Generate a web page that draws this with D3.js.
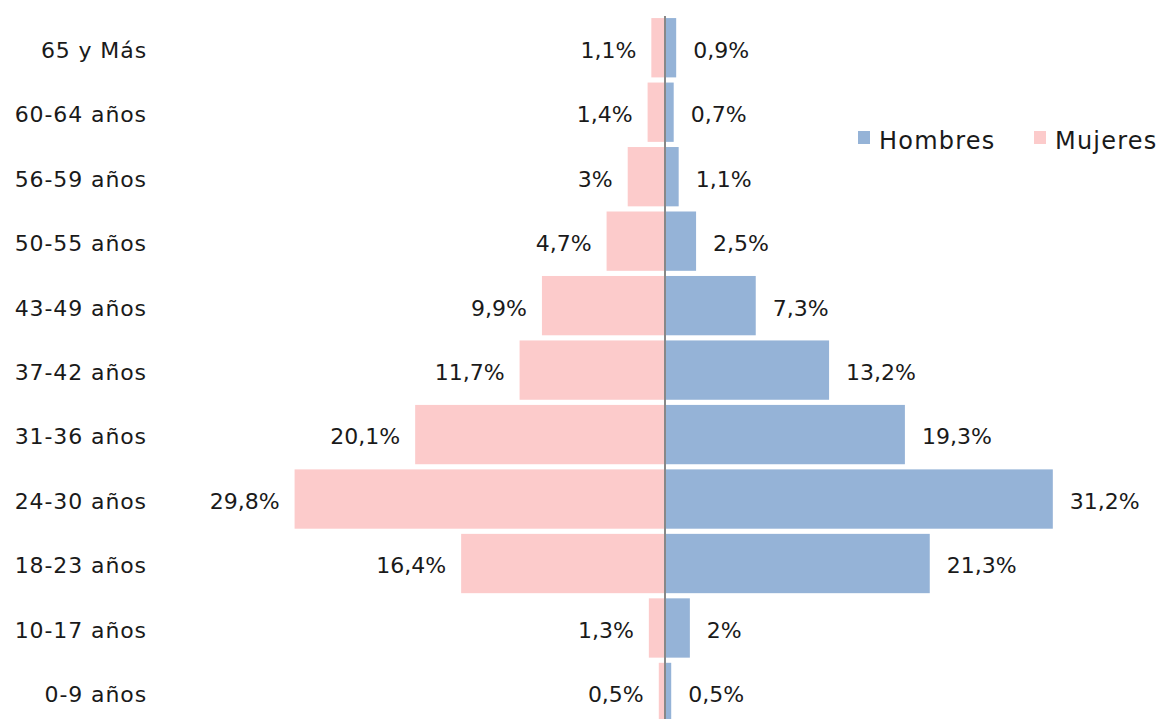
<!DOCTYPE html>
<html><head><meta charset="utf-8">
<script src="https://cdn.jsdelivr.net/npm/d3@7"></script>
<style>
html,body{margin:0;padding:0;background:#fff;overflow:hidden}
text{font-family:"DejaVu Sans",sans-serif;fill:#1a1a1a}
</style></head><body>
<script>
const categories = ["65 y Más","60-64 años","56-59 años","50-55 años","43-49 años","37-42 años","31-36 años","24-30 años","18-23 años","10-17 años","0-9 años"];
const mujeres = [1.1,1.4,3,4.7,9.9,11.7,20.1,29.8,16.4,1.3,0.5];
const hombres = [0.9,0.7,1.1,2.5,7.3,13.2,19.3,31.2,21.3,2,0.5];
const seriesNames = ["Hombres","Mujeres"];

const W=1157,H=719;
const svg=d3.select("body").append("svg").attr("width",W).attr("height",H);
const cx=665,k=12.43;
const x=d3.scaleLinear().domain([-35,35]).range([cx-35*k,cx+35*k]);
const y=d3.scaleBand().domain(categories).range([15.5,724.7]).paddingInner(0.08).paddingOuter(0.04);
const colM="#fccbcb",colH="#95b3d7";
const fmt=v=>String(v).replace(".",",")+"%";

const rows=categories.map((c,i)=>({c,m:mujeres[i],h:hombres[i]}));

svg.selectAll(".bm").data(rows).join("rect").attr("class","bm")
 .attr("x",d=>x(-d.m)).attr("width",d=>x(0)-x(-d.m))
 .attr("y",d=>y(d.c)).attr("height",y.bandwidth()).attr("fill",colM);
svg.selectAll(".bh").data(rows).join("rect").attr("class","bh")
 .attr("x",x(0)).attr("width",d=>x(d.h)-x(0))
 .attr("y",d=>y(d.c)).attr("height",y.bandwidth()).attr("fill",colH);

svg.append("line").attr("x1",x(0)).attr("x2",x(0)).attr("y1",16).attr("y2",H+10)
 .attr("stroke","#888").attr("stroke-width",2);

const fs=22;
svg.selectAll(".cat").data(rows).join("text").attr("class","cat")
 .attr("x",147).attr("y",d=>y(d.c)+y.bandwidth()/2).attr("dy","0.45em")
 .attr("text-anchor","end").attr("font-size",fs).attr("letter-spacing",0.9).text(d=>d.c);

svg.selectAll(".lm").data(rows).join("text").attr("class","lm")
 .attr("x",d=>x(-d.m)-15).attr("y",d=>y(d.c)+y.bandwidth()/2).attr("dy","0.45em")
 .attr("text-anchor","end").attr("font-size",fs).text(d=>fmt(d.m));
svg.selectAll(".lh").data(rows).join("text").attr("class","lh")
 .attr("x",d=>x(d.h)+17).attr("y",d=>y(d.c)+y.bandwidth()/2).attr("dy","0.45em")
 .attr("text-anchor","start").attr("font-size",fs).text(d=>fmt(d.h));

const leg=[{n:seriesNames[0],c:colH,x:858},{n:seriesNames[1],c:colM,x:1034}];
const lg=svg.selectAll(".leg").data(leg).join("g").attr("class","leg");
lg.append("rect").attr("x",d=>d.x).attr("y",131).attr("width",12).attr("height",13).attr("fill",d=>d.c);
lg.append("text").attr("x",d=>d.x+21).attr("y",149).attr("font-size",24).attr("letter-spacing",1.2).text(d=>d.n);
</script>
</body></html>
